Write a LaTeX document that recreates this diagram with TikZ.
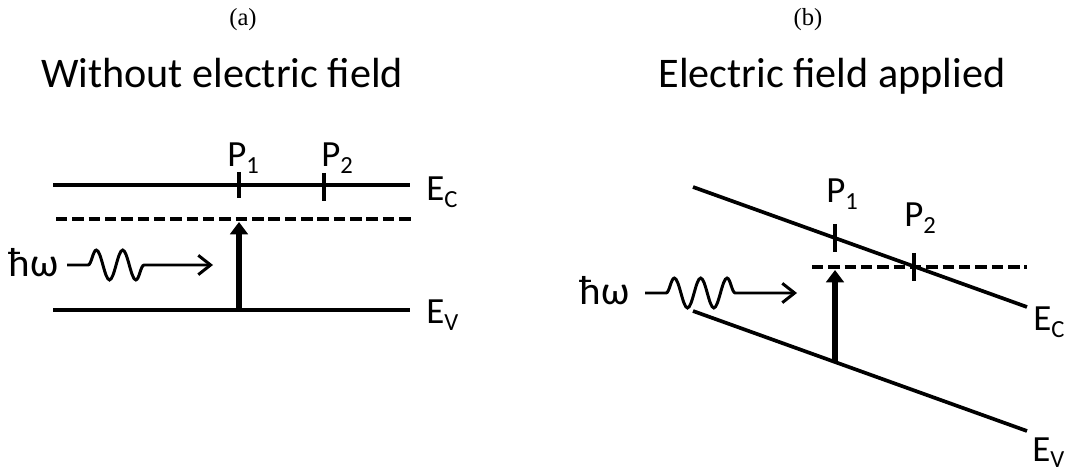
\documentclass[tikz,border=0pt]{standalone}
\usepackage{fontspec}
\setmainfont{Carlito}
\newfontfamily\capfont{Liberation Serif}
\usetikzlibrary{arrows.meta,positioning,calc,decorations.pathmorphing}
\newcommand{\lsub}[1]{\raisebox{-0.17em}{\fontsize{14pt}{14pt}\selectfont #1}}
\tikzset{
  band/.style={line width=2.1pt},
  level/.style={line width=2.1pt,dash pattern=on 6.5pt off 2.8pt},
  tick/.style={line width=2pt},
  pump/.style={line width=3.8pt,-{Triangle[length=7pt,width=10pt]}},
  photon/.style={line width=1.7pt,-{Straight Barb[length=7pt,width=11pt]},decorate,
    decoration={snake,amplitude=8.5pt,segment length=15pt,pre length=12pt,post length=33pt}},
  lbl/.style={font=\fontsize{21pt}{21pt}\selectfont,inner sep=0pt},
  ttl/.style={font=\fontsize{24pt}{26pt}\selectfont,inner sep=0pt},
  tag/.style={font=\capfont\fontsize{14pt}{16pt}\selectfont,inner sep=0pt}
}
\begin{document}
\begin{tikzpicture}[x=0.02cm,y=-0.02cm]
  \useasboundingbox (0,0) rectangle (1067,472);
  % (a) without field
  \node[tag] (taga) at (243,20) {(a)};
  \node[ttl,anchor=base] (ttla) at (222,88) {Without electric field};
  \coordinate (ca1) at (53,185); \coordinate (ca2) at (410,185);
  \coordinate (da1) at (56,219); \coordinate (da2) at (412,219);
  \coordinate (va1) at (53,310); \coordinate (va2) at (410,310);
  \draw[band] (ca1) -- (ca2);
  \draw[level] (da1) -- (da2);
  \draw[band] (va1) -- (va2);
  \coordinate (p1a) at (239,185); \coordinate (p2a) at (324,187);
  \draw[tick] (p1a) ++(0,-13) -- ++(0,26);
  \draw[tick] (p2a) ++(0,-14) -- ++(0,28);
  \node[lbl,anchor=base west] (lp1a) at (227,167) {P\lsub{1}};
  \node[lbl,anchor=base west] (lp2a) at (321,167) {P\lsub{2}};
  \node[lbl,anchor=base west] (eca) at (426,201) {E\lsub{C}};
  \node[lbl,anchor=base west] (eva) at (426,324) {E\lsub{V}};
  \coordinate (pumpa) at (239,310); \coordinate (topa) at (239,222);
  \draw[pump] (pumpa) -- (topa);
  \coordinate (wa) at (67,265); \coordinate (tipa) at (213,265);
  \node[lbl,font=\fontsize{23pt}{23pt}\selectfont,anchor=base east] (hwa) at (59,277) {ħω};
  \draw[photon] (wa) -- (tipa);
  % (b) field applied
  \node[tag] (tagb) at (808,20) {(b)};
  \node[ttl,anchor=base] (ttlb) at (832,88) {Electric field applied};
  \coordinate (cb1) at (693,187); \coordinate (cb2) at (1027,307);
  \coordinate (db1) at (812,267); \coordinate (db2) at (1027,267);
  \coordinate (vb1) at (693,311); \coordinate (vb2) at (1027,431);
  \draw[band] (cb1) -- (cb2);
  \draw[level] (db1) -- (db2);
  \draw[band] (vb1) -- (vb2);
  \coordinate (p1b) at (835,238); \coordinate (p2b) at (914,267);
  \draw[tick] (p1b) ++(0,-14) -- ++(0,28);
  \draw[tick] (p2b) ++(0,-14) -- ++(0,28);
  \node[lbl,anchor=base west] (lp1b) at (826,203) {P\lsub{1}};
  \node[lbl,anchor=base west] (lp2b) at (904,227) {P\lsub{2}};
  \node[lbl,anchor=base west] (ecb) at (1033,331) {E\lsub{C}};
  \node[lbl,anchor=base west] (evb) at (1032,461) {E\lsub{V}};
  \coordinate (pumpb) at (835,362); \coordinate (topb) at (835,270);
  \draw[pump] (pumpb) -- (topb);
  \coordinate (wb) at (645,293); \coordinate (tipb) at (797,293);
  \node[lbl,font=\fontsize{23pt}{23pt}\selectfont,anchor=base east] (hwb) at (630,305) {ħω};
  \draw[photon] (wb) -- (tipb);
\end{tikzpicture}
\end{document}
